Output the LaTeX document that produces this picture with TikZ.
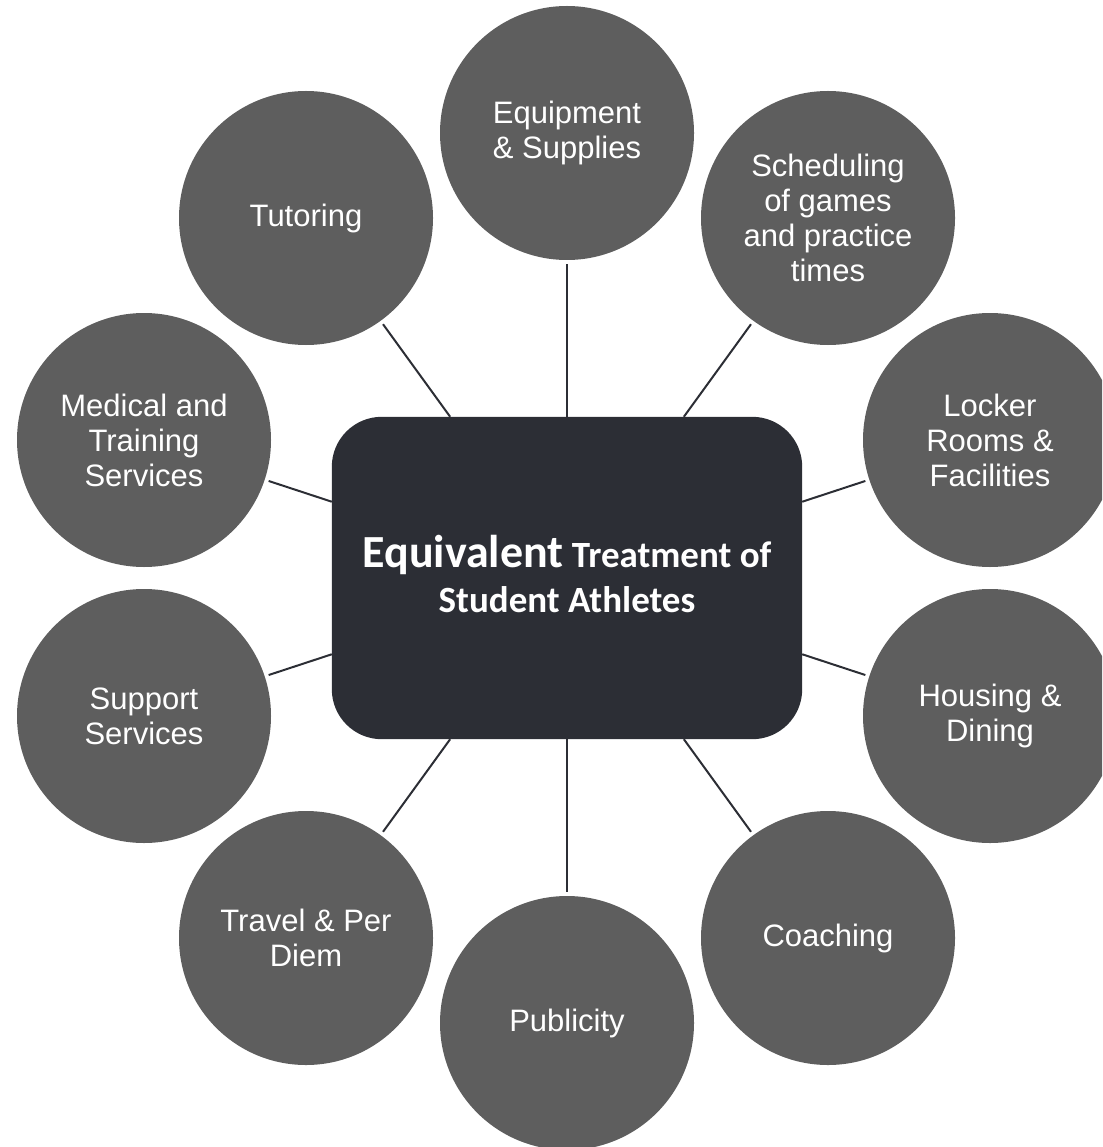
\documentclass[tikz,border=0pt]{standalone}
\usepackage{fontspec}
\setmainfont{Liberation Sans}
\newfontfamily\carlito{Carlito}
\definecolor{bubble}{HTML}{5E5E5E}
\definecolor{hubfill}{HTML}{2C2E35}
\begin{document}
\begin{tikzpicture}[x=1pt,y=-1pt,
  bubble/.style={circle,fill=bubble,minimum size=254pt,inner sep=0pt,text=white,align=center,
    font=\fontsize{31}{35}\selectfont},
  conn/.style={draw=hubfill,line width=2pt,shorten <=4pt},
  titletext/.style={text=white,inner sep=0pt,font=\carlito\bfseries}]
\useasboundingbox (0,0) rectangle (1102,1147);
\clip (0,0) rectangle (1102,1147);
\node[rectangle,rounded corners=50pt,minimum width=470pt,minimum height=322pt,inner sep=0pt] (hub) at (567,578) {};
\node[bubble] (equip) at (567,133) {Equipment\\\& Supplies};
\node[bubble] (sched) at (828,218) {Scheduling\\of games\\and practice\\times};
\node[bubble] (locker) at (990,440) {Locker\\Rooms \&\\Facilities};
\node[bubble] (housing) at (990,716) {Housing \&\\Dining};
\node[bubble] (coach) at (828,938) {Coaching};
\node[bubble] (public) at (567,1023) {Publicity};
\node[bubble] (travel) at (306,938) {Travel \& Per\\Diem};
\node[bubble] (support) at (144,716) {Support\\Services};
\node[bubble] (medical) at (144,440) {Medical and\\Training\\Services};
\node[bubble] (tutor) at (306,218) {Tutoring};
\foreach \n in {equip,sched,locker,housing,coach,public,travel,support,medical,tutor}
  \draw[conn] (\n) -- (hub);
\fill[hubfill,rounded corners=50pt] (hub.north west) rectangle (hub.south east);
\node[titletext,anchor=base] (title1) at (567,567) {\fontsize{46}{46}\selectfont Equivalent\fontsize{37}{46}\selectfont\ Treatment of};
\node[titletext,anchor=base,font=\carlito\bfseries\fontsize{37}{46}\selectfont] (title2) at (567,612) {Student Athletes};
\end{tikzpicture}
\end{document}
